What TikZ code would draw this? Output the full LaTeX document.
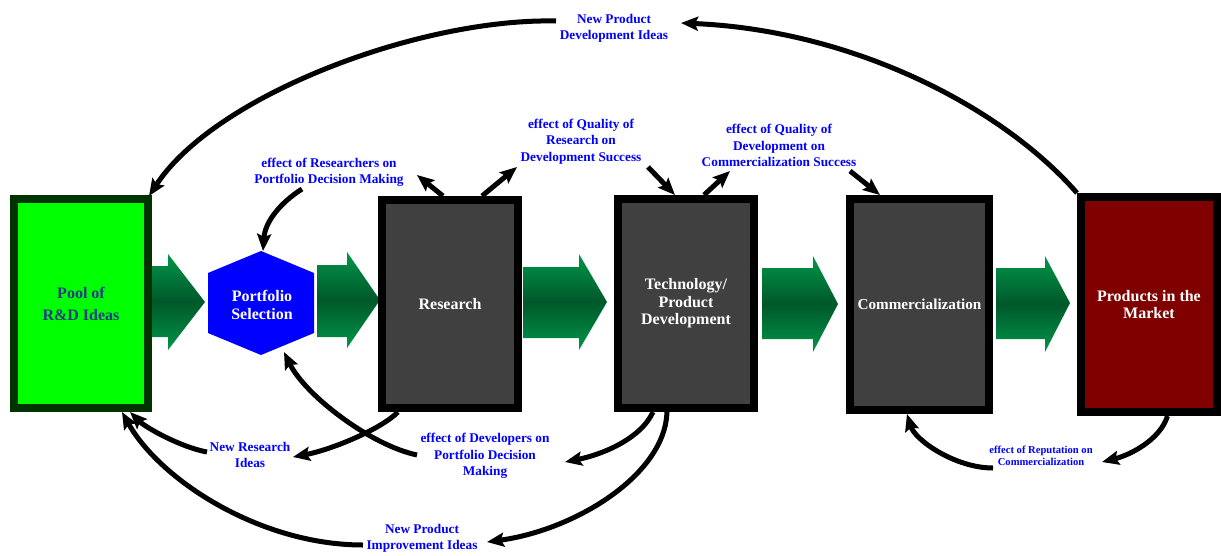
\documentclass[tikz,border=0pt]{standalone}
\usepackage{fontspec}
\setmainfont{Liberation Serif}
\usetikzlibrary{calc,arrows.meta}

\definecolor{poolgreen}{RGB}{0,255,0}
\definecolor{pooledge}{RGB}{0,51,0}
\definecolor{pooltext}{RGB}{35,60,135}
\definecolor{stagegray}{RGB}{64,64,64}
\definecolor{marketred}{RGB}{128,0,0}
\definecolor{flowlight}{RGB}{0,150,72}
\definecolor{flowdark}{RGB}{0,88,42}
\definecolor{labelblue}{RGB}{0,0,255}

\tikzset{
  stage/.style={draw=black, line width=8pt, fill=stagegray, text=white,
    font=\bfseries\fontsize{16}{17.5}\selectfont, align=center, inner sep=0pt},
  hextext/.style={text=white, font=\bfseries\fontsize{16}{17.5}\selectfont,
    align=center, inner sep=0pt},
  effect/.style={text=labelblue, font=\bfseries\fontsize{13.3}{16.5}\selectfont,
    align=center, inner sep=0pt},
  smalleffect/.style={text=labelblue, font=\bfseries\fontsize{10.6}{12}\selectfont,
    align=center, inner sep=0pt},
  conn/.style={line width=5pt, -{Stealth[length=17pt,width=14pt,inset=3pt]}},
  flow/.style={top color=flowlight, bottom color=flowlight, middle color=flowdark},
}

\begin{document}
\begin{tikzpicture}[x=1pt,y=-1pt]
\useasboundingbox (0,0) rectangle (1221,555);

% block arrows of the main flow
\shade[flow] (152,266) -- (168,266) -- (168,254) -- (205,302) -- (168,350) -- (168,337) -- (152,337) -- cycle;
\shade[flow] (317,265) -- (347,265) -- (347,252) -- (380,300) -- (347,348) -- (347,337) -- (317,337) -- cycle;
\shade[flow] (523,267) -- (579,267) -- (579,254) -- (607,302) -- (579,350) -- (579,338) -- (523,338) -- cycle;
\shade[flow] (762,268) -- (813,268) -- (813,256) -- (838,304) -- (813,352) -- (813,339) -- (762,339) -- cycle;
\shade[flow] (996,268) -- (1045,268) -- (1045,256) -- (1070,303) -- (1045,352) -- (1045,339) -- (996,339) -- cycle;

% stages
\node[stage, draw=pooledge, fill=poolgreen, text=pooltext,
  font=\bfseries\fontsize{16}{22}\selectfont,
  minimum width=134pt, minimum height=209pt] (pool) at (81,303.5) {Pool of\\R\&D Ideas};
\fill[blue] (261,251) -- (314,273) -- (314,333) -- (261,355) -- (208,333) -- (208,273) -- cycle;
\node[hextext] (psel) at (262,305) {Portfolio\\Selection};
\node[stage, minimum width=136pt, minimum height=208pt] (research) at (450,304) {Research};
\node[stage, minimum width=136pt, minimum height=209pt] (tech) at (686,303.5) {Technology/\\Product\\Development};
\node[stage, font=\bfseries\fontsize{15.2}{17.5}\selectfont,
  minimum width=139pt, minimum height=211pt] (comm) at (919.5,304.5) {Commercialization};
\node[stage, fill=marketred, minimum width=136pt, minimum height=215pt] (prod) at (1149,304.5) {Products in the\\Market};

% feedback labels
\node[effect] (npd) at (614,28.5) {New Product\\Development Ideas};
\node[effect] (rpd) at (329,172.5) {effect of Researchers on\\Portfolio Decision Making};
\node[effect] (qrd) at (581,141.5) {effect of Quality of\\Research on\\Development Success};
\node[effect] (qdc) at (779,145.5) {effect of Quality of\\Development on\\Commercialization Success};
\node[effect] (dpd) at (485,456) {effect of Developers on\\Portfolio Decision\\Making};
\node[effect] (nri) at (250,455) {New Research\\Ideas};
\node[effect] (npi) at (422,538.5) {New Product\\Improvement Ideas};
\node[smalleffect] (rep) at (1041,456) {effect of Reputation on\\Commercialization};

% new product development loop
\draw[conn] (prod.north west) .. controls (1000,105) and (850,30) .. ($(npd.center)+(67,-5.5)$);
\draw[conn] ($(npd.center)+(-58,-7.5)$) .. controls (420,18) and (215,95) .. ($(pool.north east)+(-3,1)$);

% researchers and portfolio decisions
\draw[conn] ($(research.north)+(-7,0)$) -- ($(rpd.center)+(88,2.5)$);
\draw[conn] ($(rpd.center)+(-27,16.5)$) .. controls (280,203) and (265,222) .. ($(psel.center)+(1,-54)$);

% quality effects
\draw[conn] ($(research.north)+(32,0)$) -- ($(qrd.center)+(-64,25.5)$);
\draw[conn] ($(qrd.center)+(67,25.5)$) -- ($(tech.north)+(-11,0)$);
\draw[conn] ($(tech.north)+(18,0)$) -- ($(qdc.center)+(-49,25.5)$);
\draw[conn] ($(qdc.center)+(71,25.5)$) -- ($(comm.north)+(-39.5,0)$);

% developers and portfolio decisions
\draw[conn] ($(tech.south)+(-33,0)$) .. controls (640,440) and (600,455) .. ($(dpd.center)+(80,6)$);
\draw[conn] ($(dpd.center)+(-68,-1)$) .. controls (370,445) and (305,395) .. ($(psel.center)+(22,47)$);

% new research ideas
\draw[conn] ($(research.south)+(-52,0)$) .. controls (380,430) and (330,450) .. ($(nri.center)+(43,2)$);
\draw[conn] ($(nri.center)+(-43,-3)$) .. controls (180,447) and (145,427) .. ($(pool.south)+(49,0)$);

% new product improvement ideas
\draw[conn] ($(tech.south)+(-19,0)$) .. controls (665,475) and (575,530) .. ($(npi.center)+(65,3.5)$);
\draw[conn] ($(npi.center)+(-59,6.5)$) .. controls (260,545) and (160,480) .. ($(pool.south)+(41,0)$);

% reputation
\draw[conn] ($(prod.south)+(18.5,0)$) .. controls (1160,440) and (1130,455) .. ($(rep.center)+(61,6)$);
\draw[conn] ($(rep.center)+(-48,12)$) .. controls (955,468) and (915,440) .. ($(comm.south)+(-12.5,0)$);
\end{tikzpicture}
\end{document}
